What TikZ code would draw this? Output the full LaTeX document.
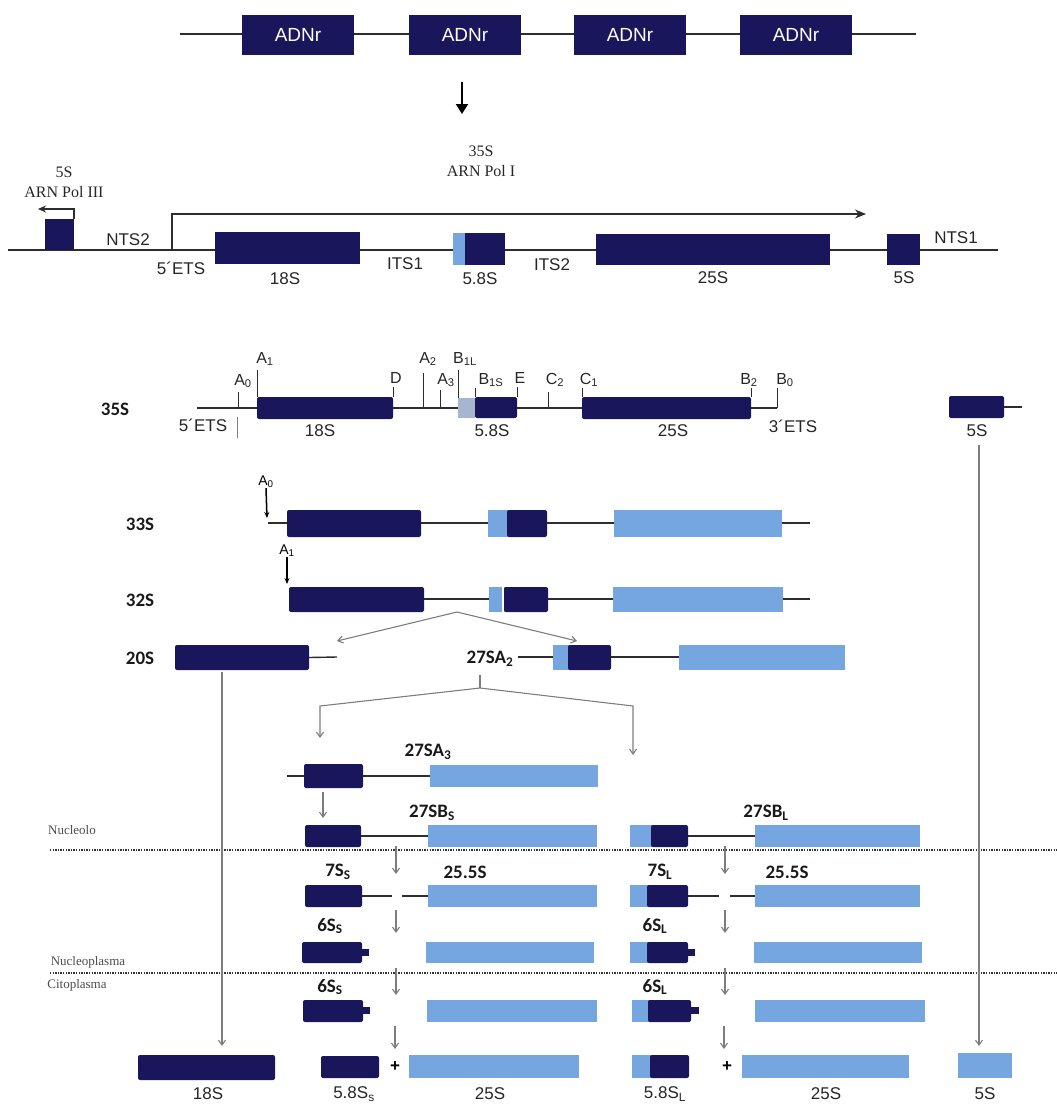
\documentclass[tikz,border=0pt]{standalone}
\usepackage{fontspec}
\setmainfont{Liberation Sans}
\newfontfamily\serifF{Liberation Serif}
\newfontfamily\calF{Carlito}
\usetikzlibrary{fit,arrows.meta}
\definecolor{dk}{RGB}{26,22,92}
\definecolor{lb}{RGB}{118,166,224}
\definecolor{gb}{RGB}{165,182,206}
\definecolor{ar}{RGB}{125,125,125}
\definecolor{ln}{RGB}{45,45,45}
\newcommand\bx[6]{\node[#1, fit={(#3,#4)(#5,#6)}] (#2) {};}
\begin{document}
\begin{tikzpicture}[x=1pt,y=-1pt,
  dkf/.style={fill=dk, inner sep=0pt, outer sep=0pt, draw=none},
  dkb/.style={fill=dk, inner sep=0pt, outer sep=0pt, draw=none, rounded corners=2pt},
  lbb/.style={fill=lb, inner sep=0pt, outer sep=0pt, draw=none},
  gbb/.style={fill=gb, inner sep=0pt, outer sep=0pt, draw=none},
  wgap/.style={fill=white, inner sep=0pt, outer sep=0pt, draw=none},
  bb/.style={line width=1.4pt, draw=ln},
  tk/.style={line width=1pt, draw=ln},
  garr/.style={draw=ar, line width=1.1pt, -{Straight Barb[length=5pt,width=7pt]}},
  karr/.style={draw=black, line width=1.5pt, -{Stealth[length=6pt,width=5pt]}},
  lab/.style={font=\fontsize{17}{19}\selectfont, inner sep=0pt, text=black!85},
  slab/.style={font=\fontsize{16}{18}\selectfont, inner sep=0pt, text=black!85},
  blab/.style={font=\calF\bfseries\fontsize{19}{21}\selectfont, inner sep=0pt, text=black!90},
  ser/.style={font=\serifF\fontsize{16}{20}\selectfont, inner sep=0pt, align=center, text=black!85},
  loc/.style={font=\serifF\fontsize{13}{15}\selectfont, inner sep=0pt, text=black!70},
  adn/.style={fill=dk, text=white, minimum width=112pt, minimum height=40pt, inner sep=0pt, font=\fontsize{19}{21}\selectfont},
  dotl/.style={draw=black!80, line width=1.6pt, dash pattern=on 1.3pt off 1.3pt}
]
\useasboundingbox (0,0) rectangle (1057,1104);

% ---------- top rDNA repeats
\coordinate (t0) at (180,34); \coordinate (t1) at (916,34);
\draw[bb] (t0) -- (t1);
\node[adn] (r1) at (298,35) {ADNr};
\node[adn] (r2) at (465,35) {ADNr};
\node[adn] (r3) at (630,35) {ADNr};
\node[adn] (r4) at (796,35) {ADNr};
\coordinate (a0) at (462,82); \coordinate (a1) at (462,114);
\draw[line width=2.2pt, -{Triangle[length=10pt,width=12pt]}] (a0) -- (a1);

% ---------- gene unit
\node[ser] (pol3) at (64,182) {5S\\ARN Pol III};
\node[ser] (pol1) at (481,161) {35S\\ARN Pol I};
\coordinate (g0) at (8,250); \coordinate (g1) at (998,250);
\draw[bb] (g0) -- (g1);
\bx{dkf}{g5a}{45}{219}{74}{250}
\coordinate (ba1) at (74,209); \coordinate (ba2) at (38,209);
\draw[line width=1.2pt, draw=ln, -{Stealth[length=8pt,width=7pt]}] (g5a.north east) -- (ba1) -- (ba2);
\coordinate (bg0) at (172,250); \coordinate (bg1) at (172,214); \coordinate (bg2) at (866,214);
\draw[line width=1.2pt, draw=ln, -{Stealth[length=11pt,width=9pt]}] (bg0) -- (bg1) -- (bg2);
\bx{dkf}{g18}{215}{232}{360}{264}
\bx{lbb}{g58l}{453}{233}{466}{265}
\bx{dkf}{g58}{465}{233}{505}{265}
\bx{dkf}{g25}{596}{234}{830}{265}
\bx{dkf}{g5}{887}{234}{920}{265}
\node[lab] (lnts2) at (128,240) {NTS2};
\node[lab] (l5ets) at (181,268) {5´ETS};
\node[lab] (l18) at (285,279) {18S};
\node[lab] (lits1) at (405,264) {ITS1};
\node[lab] (l58) at (480,279) {5.8S};
\node[lab] (lits2) at (552,265) {ITS2};
\node[lab] (l25) at (713,278) {25S};
\node[lab] (l5) at (904,278) {5S};
\node[lab] (lnts1) at (956,238) {NTS1};

% ---------- 35S with cleavage sites
\node[blab] (n35) at (115,409) {35S};
\coordinate (p0) at (197,408); \coordinate (p1) at (777,408);
\draw[bb] (p0) -- (p1);
\bx{dkb}{p18}{257}{397}{393}{419}
\bx{gbb}{pgb}{458}{398}{475}{418}
\bx{dkb}{p58}{475}{397}{517}{418}
\bx{dkb}{p25}{582}{397}{751}{419}
\draw[tk] (238,408) -- (238,392);
\draw[tk, draw=black!50] (237,417) -- (237,438);
\draw[tk] (257,397) -- (257,370);
\draw[tk] (393,397) -- (393,387);
\draw[tk] (423,408) -- (423,373);
\draw[tk] (440,408) -- (440,390);
\draw[tk] (458,398) -- (458,370);
\draw[tk] (475,397) -- (475,388);
\draw[tk] (517,397) -- (517,387);
\draw[tk] (548,408) -- (548,392);
\draw[tk] (582,397) -- (582,388);
\draw[tk] (751,397) -- (751,388);
\draw[tk] (777,408) -- (777,388);
\node[slab] (sA0) at (243,381) {A\textsubscript{0}};
\node[slab] (sA1) at (265,359) {A\textsubscript{1}};
\node[slab] (sD) at (396,378) {D};
\node[slab] (sA2) at (428,359) {A\textsubscript{2}};
\node[slab] (sA3) at (446,380) {A\textsubscript{3}};
\node[slab] (sB1L) at (465,359) {B\textsubscript{1L}};
\node[slab] (sB1S) at (491,380) {B\textsubscript{1S}};
\node[slab] (sE) at (520,378) {E};
\node[slab] (sC2) at (555,380) {C\textsubscript{2}};
\node[slab] (sC1) at (589,380) {C\textsubscript{1}};
\node[slab] (sB2) at (749,380) {B\textsubscript{2}};
\node[slab] (sB0) at (785,380) {B\textsubscript{0}};
\node[lab] (m5ets) at (203,425) {5´ETS};
\node[lab] (m18) at (320,431) {18S};
\node[lab] (m58) at (492,431) {5.8S};
\node[lab] (m25) at (673,431) {25S};
\node[lab] (m3ets) at (793,426) {3´ETS};
\bx{dkb}{p5}{949}{396}{1004}{418}
\coordinate (p5e) at (1022,407);
\draw[bb] (p5.east) -- (p5e);
\node[lab] (m5) at (977,431) {5S};

% ---------- 33S
\node[blab] (n33) at (140,524) {33S};
\node[font=\fontsize{14}{16}\selectfont, inner sep=0pt] (q33) at (266,482) {A\textsubscript{0}};
\coordinate (q33b) at (267,518);
\draw[karr] (q33.south) -- (q33b);
\coordinate (s0) at (268,523); \coordinate (s1) at (810,523);
\draw[bb] (s0) -- (s1);
\bx{dkb}{s18}{287}{510}{421}{537}
\bx{lbb}{s58l}{488}{510}{510}{537}
\bx{dkb}{s58}{507}{510}{547}{537}
\bx{lbb}{s25}{614}{510}{782}{537}

% ---------- 32S
\node[blab] (n32) at (140,600) {32S};
\node[font=\fontsize{14}{16}\selectfont, inner sep=0pt] (q32) at (287,551) {A\textsubscript{1}};
\coordinate (q32b) at (287,584);
\draw[karr] (q32.south) -- (q32b);
\coordinate (u0) at (289,599); \coordinate (u1) at (810,599);
\draw[bb] (u0) -- (u1);
\bx{dkb}{u18}{289}{587}{424}{612}
\bx{lbb}{u58l}{489}{587}{505}{612}
\bx{wgap}{u58w}{502}{587}{504}{612}
\bx{dkb}{u58}{504}{587}{548}{612}
\bx{lbb}{u25}{613}{587}{783}{612}
\coordinate (sp0) at (457,612); \coordinate (sp1) at (337,641); \coordinate (sp2) at (577,641);
\draw[garr] (sp0) -- (sp1);
\draw[garr] (sp0) -- (sp2);

% ---------- 20S and 27SA2
\node[blab] (n20) at (140,658) {20S};
\bx{dkb}{v18}{175}{645}{309}{670}
\coordinate (v18e) at (337,657);
\draw[bb] (v18.east) -- (v18e);
\node[blab] (n27a2) at (490,659) {27SA\textsubscript{2}};
\coordinate (w0) at (518,657); \coordinate (w1) at (700,657);
\draw[bb] (w0) -- (w1);
\bx{lbb}{w58l}{553}{645}{570}{670}
\bx{dkb}{w58}{568}{645}{611}{670}
\bx{lbb}{w25}{679}{645}{845}{670}

% 27SA2 split
\coordinate (x0) at (480,675); \coordinate (x1) at (480,688);
\coordinate (xl) at (320,706); \coordinate (xr) at (633,706);
\coordinate (xlb) at (320,738); \coordinate (xrb) at (633,755);
\draw[draw=ar, line width=1.1pt] (x0) -- (x1);
\draw[garr] (x1) -- (xl) -- (xlb);
\draw[garr] (x1) -- (xr) -- (xrb);

% ---------- 27SA3
\node[blab] (n27a3) at (428,752) {27SA\textsubscript{3}};
\coordinate (y0) at (287,776); \coordinate (y1) at (430,776);
\draw[bb] (y0) -- (y1);
\bx{dkb}{y58}{304}{764}{363}{788}
\bx{lbb}{y25}{430}{765}{598}{787}
\coordinate (ya) at (323,818);
\draw[garr] (y58.south -| ya) ++(0,4) coordinate (yb) -- (ya);

% ---------- 27SB
\node[blab] (n27bs) at (432,813) {27SB\textsubscript{S}};
\node[blab] (n27bl) at (766,813) {27SB\textsubscript{L}};
\bx{dkb}{z58}{305}{825}{361}{847}
\bx{lbb}{z25}{428}{825}{597}{847}
\draw[bb] (z58.east) -- (z25.west);
\bx{lbb}{zz58l}{630}{825}{653}{847}
\bx{dkb}{zz58}{651}{825}{688}{847}
\bx{lbb}{zz25}{755}{825}{920}{847}
\draw[bb] (zz58.east) -- (zz25.west);
\node[loc] (nucleolo) at (72,830) {Nucleolo};

\coordinate (d0) at (50,850); \coordinate (d1) at (1057,850);
\draw[dotl] (d0) -- (d1);

% arrows 27SB -> 7S
\coordinate (k1a) at (396,846); \coordinate (k1b) at (396,874);
\coordinate (k2a) at (725,846); \coordinate (k2b) at (725,874);
\draw[garr] (k1a) -- (k1b);
\draw[garr] (k2a) -- (k2b);

% ---------- 7S / 25.5S
\node[blab] (n7s) at (338,872) {7S\textsubscript{S}};
\node[blab] (n255a) at (465,872) {25.5S};
\node[blab] (n7l) at (660,872) {7S\textsubscript{L}};
\node[blab] (n255b) at (787,872) {25.5S};
\bx{dkb}{h58}{305}{885}{362}{907}
\bx{lbb}{h25}{428}{885}{597}{907}
\coordinate (h1) at (392,896); \coordinate (h2) at (402,896);
\draw[bb] (h58.east) -- (h1); \draw[bb] (h2) -- (h25.west);
\bx{lbb}{hh58l}{630}{885}{649}{907}
\bx{dkb}{hh58}{647}{885}{688}{907}
\bx{lbb}{hh25}{755}{885}{920}{907}
\coordinate (h3) at (719,896); \coordinate (h4) at (730,896);
\draw[bb] (hh58.east) -- (h3); \draw[bb] (h4) -- (hh25.west);

\coordinate (k3a) at (396,910); \coordinate (k3b) at (396,933);
\coordinate (k4a) at (725,910); \coordinate (k4b) at (725,933);
\draw[garr] (k3a) -- (k3b);
\draw[garr] (k4a) -- (k4b);

% ---------- 6S nucleoplasm
\node[blab] (n6s1) at (330,926) {6S\textsubscript{S}};
\node[blab] (n6l1) at (655,926) {6S\textsubscript{L}};
\bx{dkb}{i58}{302}{942}{362}{963}
\bx{dkf}{i58n}{360}{949}{369}{956}
\bx{lbb}{i25}{426}{942}{594}{963}
\bx{lbb}{ii58l}{630}{942}{649}{963}
\bx{dkb}{ii58}{647}{942}{688}{963}
\bx{dkf}{ii58n}{686}{949}{695}{956}
\bx{lbb}{ii25}{754}{942}{922}{963}
\node[loc] (nucleopl) at (88,962) {Nucleoplasma};

\coordinate (e0) at (50,973); \coordinate (e1) at (1057,973);
\draw[dotl] (e0) -- (e1);
\node[loc] (citopl) at (77,985) {Citoplasma};

\coordinate (k5a) at (396,968); \coordinate (k5b) at (396,995);
\coordinate (k6a) at (725,968); \coordinate (k6b) at (725,995);
\draw[garr] (k5a) -- (k5b);
\draw[garr] (k6a) -- (k6b);

% ---------- 6S cytoplasm
\node[blab] (n6s2) at (330,987) {6S\textsubscript{S}};
\node[blab] (n6l2) at (655,987) {6S\textsubscript{L}};
\bx{dkb}{j58}{303}{1000}{363}{1022}
\bx{dkf}{j58n}{361}{1007}{370}{1014}
\bx{lbb}{j25}{427}{1000}{597}{1022}
\bx{lbb}{jj58l}{632}{1000}{650}{1022}
\bx{dkb}{jj58}{648}{1000}{691}{1022}
\bx{dkf}{jj58n}{689}{1007}{699}{1014}
\bx{lbb}{jj25}{755}{1000}{925}{1022}

\coordinate (k7a) at (395,1026); \coordinate (k7b) at (395,1049);
\coordinate (k8a) at (724,1026); \coordinate (k8b) at (724,1049);
\draw[garr] (k7a) -- (k7b);
\draw[garr] (k8a) -- (k8b);

% ---------- mature rRNAs
\bx{dkb}{f18}{138}{1055}{275}{1080}
\bx{dkb}{f58s}{321}{1056}{379}{1078}
\node[font=\bfseries\fontsize{17}{19}\selectfont, inner sep=0pt] (plus1) at (395,1067) {+};
\bx{lbb}{f25a}{409}{1055}{579}{1078}
\bx{lbb}{f58ll}{632}{1055}{652}{1078}
\bx{dkb}{f58l}{650}{1055}{689}{1078}
\node[font=\bfseries\fontsize{17}{19}\selectfont, inner sep=0pt] (plus2) at (727,1067) {+};
\bx{lbb}{f25b}{742}{1055}{909}{1078}
\bx{lbb}{f5}{958}{1053}{1012}{1078}
\node[lab] (o18) at (208,1094) {18S};
\node[lab] (o58s) at (354,1094) {5.8S\textsubscript{s}};
\node[lab] (o25a) at (490,1094) {25S};
\node[lab] (o58l) at (665,1094) {5.8S\textsubscript{L}};
\node[lab] (o25b) at (826,1094) {25S};
\node[lab] (o5) at (985,1094) {5S};

% long arrows
\coordinate (lg1) at (222,672); \coordinate (lg2) at (222,1046);
\draw[garr] (lg1) -- (lg2);
\coordinate (lg3) at (979,445); \coordinate (lg4) at (979,1046);
\draw[garr] (lg3) -- (lg4);
\end{tikzpicture}
\end{document}
